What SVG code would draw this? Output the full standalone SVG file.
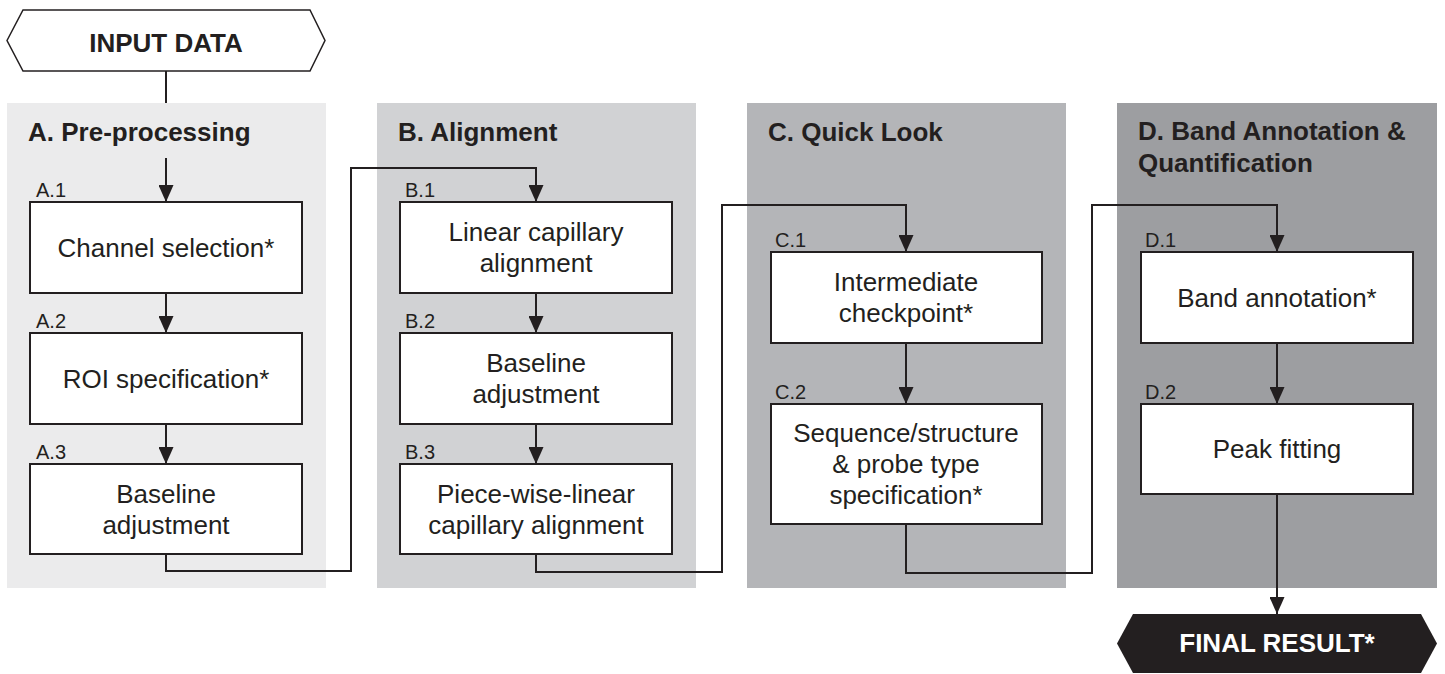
<svg xmlns="http://www.w3.org/2000/svg" width="1445" height="674" viewBox="0 0 1445 674">
<style>
.panel{stroke:none}
.box{fill:#ffffff;stroke:#231f20;stroke-width:2}
.t{font-family:"Liberation Sans",Arial,sans-serif;font-size:26px;fill:#231f20;text-anchor:middle}
.title{font-family:"Liberation Sans",Arial,sans-serif;font-size:26px;font-weight:bold;fill:#231f20}
.lab{font-family:"Liberation Sans",Arial,sans-serif;font-size:20px;fill:#231f20}
.conn{fill:none;stroke:#231f20;stroke-width:2}
</style>
<defs>
<marker id="arr" viewBox="0 0 17 15" refX="17" refY="7.5" markerWidth="17" markerHeight="15" markerUnits="userSpaceOnUse" orient="auto">
<path d="M0,0 L17,7.5 L0,15 Z" fill="#231f20"/>
</marker>
</defs>
<rect width="1445" height="674" fill="#ffffff"/>
<g id="panelA"><rect class="panel" x="7" y="103" width="319" height="485" fill="#ebebec"/><text class="title" x="28" y="141">A. Pre-processing</text></g>
<g id="panelB"><rect class="panel" x="377" y="103" width="319" height="485" fill="#d1d2d4"/><text class="title" x="398" y="141">B. Alignment</text></g>
<g id="panelC"><rect class="panel" x="747" y="103" width="319" height="485" fill="#b4b5b8"/><text class="title" x="768" y="141">C. Quick Look</text></g>
<g id="panelD"><rect class="panel" x="1117" y="103" width="320" height="485" fill="#9d9ea1"/><text class="title" x="1138" y="140">D. Band Annotation &amp;</text><text class="title" x="1138" y="172">Quantification</text></g>
<g id="input"><polygon points="7,40.5 23,10 310,10 325,40.5 310,71 23,71" fill="#ffffff" stroke="#231f20" stroke-width="1.5"/><text class="title" x="166" y="52" text-anchor="middle">INPUT DATA</text></g>
<g id="A1"><text class="lab" x="36" y="197">A.1</text><rect class="box" x="30" y="202" width="272" height="91"/><text class="t" x="166" y="257">Channel selection*</text></g>
<g id="A2"><text class="lab" x="36" y="328">A.2</text><rect class="box" x="30" y="333" width="272" height="91"/><text class="t" x="166" y="388">ROI specification*</text></g>
<g id="A3"><text class="lab" x="36" y="459">A.3</text><rect class="box" x="30" y="464" width="272" height="90"/><text class="t" x="166" y="503">Baseline</text><text class="t" x="166" y="534">adjustment</text></g>
<g id="B1"><text class="lab" x="405" y="197">B.1</text><rect class="box" x="400" y="202" width="272" height="91"/><text class="t" x="536" y="241">Linear capillary</text><text class="t" x="536" y="272">alignment</text></g>
<g id="B2"><text class="lab" x="405" y="328">B.2</text><rect class="box" x="400" y="333" width="272" height="91"/><text class="t" x="536" y="372">Baseline</text><text class="t" x="536" y="403">adjustment</text></g>
<g id="B3"><text class="lab" x="405" y="459">B.3</text><rect class="box" x="400" y="464" width="272" height="90"/><text class="t" x="536" y="503">Piece-wise-linear</text><text class="t" x="536" y="534">capillary alignment</text></g>
<g id="C1"><text class="lab" x="775" y="247">C.1</text><rect class="box" x="771" y="252" width="271" height="91"/><text class="t" x="906" y="291">Intermediate</text><text class="t" x="906" y="322">checkpoint*</text></g>
<g id="C2"><text class="lab" x="775" y="399">C.2</text><rect class="box" x="771" y="404" width="271" height="120"/><text class="t" x="906" y="442">Sequence/structure</text><text class="t" x="906" y="473">&amp; probe type</text><text class="t" x="906" y="504">specification*</text></g>
<g id="D1"><text class="lab" x="1145" y="247">D.1</text><rect class="box" x="1141" y="252" width="272" height="91"/><text class="t" x="1277" y="307">Band annotation*</text></g>
<g id="D2"><text class="lab" x="1145" y="399">D.2</text><rect class="box" x="1141" y="404" width="272" height="90"/><text class="t" x="1277" y="458">Peak fitting</text></g>
<g id="final"><polygon points="1117,643.5 1133,614 1421,614 1437,643.5 1421,673 1133,673" fill="#231f20"/><text class="title" x="1277" y="652" text-anchor="middle" style="fill:#ffffff">FINAL RESULT*</text></g>
<g id="connectors">
<path class="conn" d="M166,71 V103"/>
<path class="conn" d="M166,158 V202" marker-end="url(#arr)"/>
<path class="conn" d="M166,293 V333" marker-end="url(#arr)"/>
<path class="conn" d="M166,424 V464" marker-end="url(#arr)"/>
<path class="conn" d="M166,554 V571 H351 V168 H536 V202" marker-end="url(#arr)"/>
<path class="conn" d="M536,293 V333" marker-end="url(#arr)"/>
<path class="conn" d="M536,424 V464" marker-end="url(#arr)"/>
<path class="conn" d="M536,554 V572 H722 V205 H906 V252" marker-end="url(#arr)"/>
<path class="conn" d="M906,343 V404" marker-end="url(#arr)"/>
<path class="conn" d="M906,524 V573 H1092 V205 H1277 V252" marker-end="url(#arr)"/>
<path class="conn" d="M1277,343 V404" marker-end="url(#arr)"/>
<path class="conn" d="M1277,494 V614" marker-end="url(#arr)"/>
</g>
</svg>
